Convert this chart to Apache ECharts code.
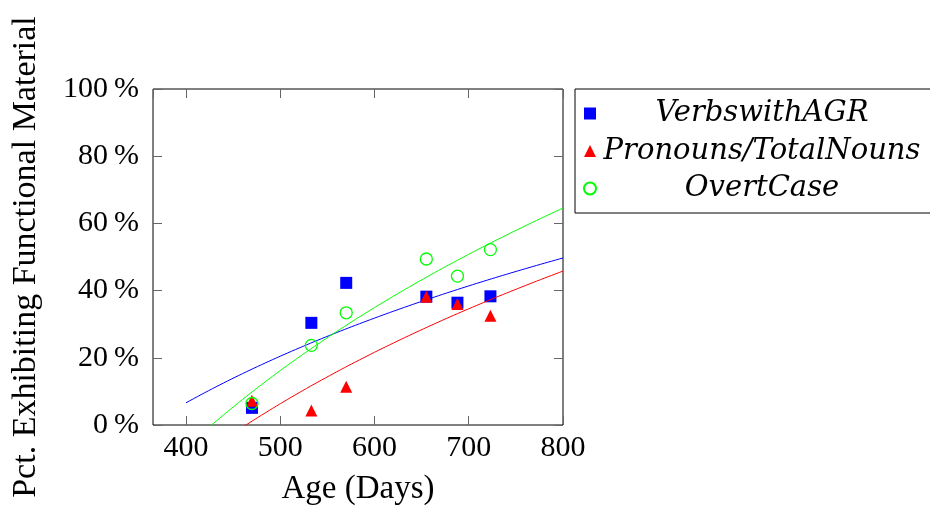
<!DOCTYPE html>
<html>
<head>
<meta charset="utf-8">
<script src="https://cdn.jsdelivr.net/npm/echarts@6/dist/echarts.min.js"></script>
<style>
  html, body { margin: 0; padding: 0; background: #fff; }
  #chart { width: 930px; height: 512px; }
</style>
</head>
<body>
<div id="chart"></div>
<script>
// Age in days at each recording session
const ageDays = [470, 533, 570, 655, 688, 723];
// Percentage of utterances exhibiting each functional category
const verbsWithAgr = [5.1, 30.4, 42.3, 38.2, 36.4, 38.3];
const pronounsOverNouns = [7.2, 4.3, 11.4, 38.2, 36.0, 32.5];
const overtCase = [6.4, 23.7, 33.4, 49.4, 44.3, 52.2];

const seriesNames = ['VerbswithAGR', 'Pronouns/TotalNouns', 'OvertCase'];
const yTicks = [0, 20, 40, 60, 80, 100];
const xTicks = [400, 500, 600, 700, 800];
const fitDomain = [400, 800];

// Least-squares fit of y = a + b*ln(x)
function logFit(xs, ys) {
  const lx = xs.map(Math.log);
  const n = xs.length;
  const mx = lx.reduce((s, v) => s + v, 0) / n;
  const my = ys.reduce((s, v) => s + v, 0) / n;
  let sxy = 0, sxx = 0;
  for (let i = 0; i < n; i++) {
    sxy += (lx[i] - mx) * (ys[i] - my);
    sxx += (lx[i] - mx) * (lx[i] - mx);
  }
  const b = sxy / sxx;
  const a = my - b * mx;
  return x => a + b * Math.log(x);
}

function fitLine(xs, ys) {
  const f = logFit(xs, ys);
  const pts = [];
  for (let x = fitDomain[0]; x <= fitDomain[1]; x += 4) pts.push([x, f(x)]);
  return pts;
}

function pairs(xs, ys) { return xs.map((x, i) => [x, ys[i]]); }

const serif = 'Liberation Serif, DejaVu Serif, serif';
const blue = '#0000ff', red = '#ff0000', green = '#00ff00';
const tickLine = { color: '#666', width: 1 };
const innerTicks = { show: true, inside: true, length: 9, lineStyle: tickLine };
const hiddenLine = { show: false, onZero: false };

const chart = echarts.init(document.getElementById('chart'), null, { renderer: 'canvas' });

chart.setOption({
  animation: false,
  backgroundColor: '#fff',
  grid: { left: 153, top: 89, right: 367, bottom: 87, show: true, borderColor: '#000', borderWidth: 1, backgroundColor: 'transparent' },
  legend: {
    data: seriesNames,
    orient: 'vertical',
    left: 575, top: 89,
    padding: [10, 8, 10, 8],
    itemGap: 8.5,
    itemWidth: 12, itemHeight: 12,
    borderColor: '#000', borderWidth: 1,
    formatter: name => '{t|' + name + '}',
    textStyle: {
      rich: {
        t: { fontFamily: 'DejaVu Serif, serif', fontStyle: 'italic', fontSize: 29, color: '#000', width: 322, align: 'center', lineHeight: 30 }
      }
    }
  },
  xAxis: [{
    type: 'value', min: 365, max: 800, splitNumber: 5, position: 'bottom',
    axisLine: hiddenLine, splitLine: { show: false },
    axisTick: innerTicks,
    axisLabel: {
      color: '#000', fontFamily: serif, fontSize: 30, margin: 8,
      showMinLabel: false,
      formatter: v => (xTicks.indexOf(v) >= 0 ? String(v) : '')
    },
    name: 'Age (Days)', nameLocation: 'middle', nameGap: 48,
    nameTextStyle: { color: '#000', fontFamily: serif, fontSize: 33 }
  }, {
    type: 'value', min: 365, max: 800, splitNumber: 5, position: 'top',
    axisLine: hiddenLine, splitLine: { show: false },
    axisTick: innerTicks,
    axisLabel: { show: false }
  }],
  yAxis: [{
    type: 'value', min: 0, max: 100, interval: 20, position: 'left',
    axisLine: hiddenLine, splitLine: { show: false },
    axisTick: innerTicks,
    axisLabel: {
      color: '#000', fontFamily: serif, fontSize: 30, margin: 14,
      formatter: v => (yTicks.indexOf(v) >= 0 ? v + '\u2009%' : '')
    },
    name: 'Pct. Exhibiting Functional Material', nameLocation: 'middle', nameGap: 110,
    nameTextStyle: { color: '#000', fontFamily: serif, fontSize: 34 }
  }, {
    type: 'value', min: 0, max: 100, interval: 20, position: 'right',
    axisLine: hiddenLine, splitLine: { show: false },
    axisLabel: { show: false },
    axisTick: innerTicks
  }],
  series: [
    {
      name: seriesNames[0], type: 'scatter', symbol: 'rect', symbolSize: 12,
      itemStyle: { color: blue, opacity: 1 }, data: pairs(ageDays, verbsWithAgr), z: 2
    },
    {
      name: 'fit-agr', type: 'line', showSymbol: false,
      lineStyle: { color: blue, width: 1 }, data: fitLine(ageDays, verbsWithAgr), z: 2
    },
    {
      name: seriesNames[1], type: 'scatter', symbol: 'triangle', symbolSize: 12,
      itemStyle: { color: red, opacity: 1 }, data: pairs(ageDays, pronounsOverNouns), z: 3
    },
    {
      name: 'fit-pron', type: 'line', showSymbol: false,
      lineStyle: { color: red, width: 1 }, data: fitLine(ageDays, pronounsOverNouns), z: 3
    },
    {
      name: seriesNames[2], type: 'scatter', symbol: 'circle', symbolSize: 12,
      itemStyle: { color: 'rgba(0,0,0,0)', borderColor: green, borderWidth: 1.3, opacity: 1 },
      data: pairs(ageDays, overtCase), z: 4
    },
    {
      name: 'fit-case', type: 'line', showSymbol: false,
      lineStyle: { color: green, width: 1 }, data: fitLine(ageDays, overtCase), z: 4
    }
  ]
});
</script>
</body>
</html>
